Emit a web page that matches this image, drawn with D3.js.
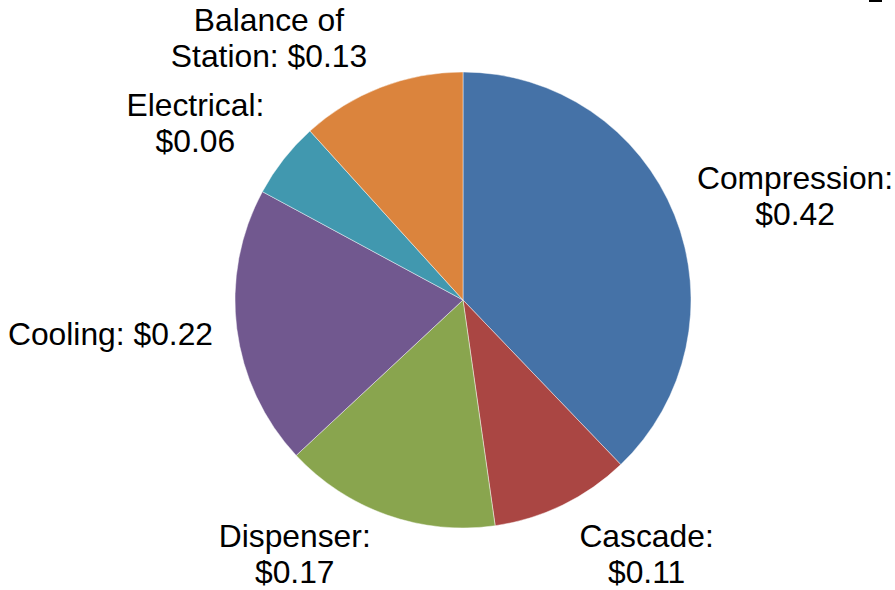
<!DOCTYPE html>
<html>
<head>
<meta charset="utf-8">
<script src="https://cdn.jsdelivr.net/npm/d3@7"></script>
<style>
  body { margin: 0; background: #fff; }
  text { font-family: "Liberation Sans", Arial, sans-serif; font-size: 31.8px; fill: #000; }
</style>
</head>
<body>
<script>
const width = 895, height = 590;
const cx = 463, cy = 300, radius = 228, labelRadius = 250;

// data, clockwise from 12 o'clock
const categories = ["Compression", "Cascade", "Dispenser", "Cooling", "Electrical", "Balance of Station"];
const values = [0.42, 0.11, 0.17, 0.22, 0.06, 0.13];
const labelLines = [
  ["Compression:", "$0.42"],
  ["Cascade:", "$0.11"],
  ["Dispenser:", "$0.17"],
  ["Cooling: $0.22"],
  ["Electrical:", "$0.06"],
  ["Balance of", "Station: $0.13"]
];
const colors = ["#4572A7", "#AA4643", "#89A54E", "#71588F", "#4198AF", "#DB843D"];

// small layout nudges for the labels (dx, dy in px)
const labelNudge = [[-2, 3], [3, -3], [-7, -15], [0, 0], [0, 0], [-4, 5]];

const data = categories.map((c, i) => ({name: c, value: values[i], lines: labelLines[i], color: colors[i], nudge: labelNudge[i]}));

let svg = d3.select("body").append("svg")
    .attr("width", width)
    .attr("height", height);

// small mark at the top right
svg.append("rect")
    .attr("x", 869).attr("y", 0)
    .attr("width", 13).attr("height", 2)
    .attr("fill", "#000");

const pie = d3.pie().sort(null).value(d => d.value);
const arc = d3.arc().innerRadius(0).outerRadius(radius);

const g = svg.append("g")
    .attr("transform", "translate(" + cx + "," + cy + ")");

const arcs = pie(data);

g.selectAll("path")
    .data(arcs)
    .enter().append("path")
    .attr("d", arc)
    .attr("fill", d => d.data.color)
    .attr("stroke", "#fff")
    .attr("stroke-opacity", 0.6)
    .attr("stroke-width", 0.75);

const lineH = 36;

arcs.forEach(d => {
  const a = (d.startAngle + d.endAngle) / 2;
  const px = labelRadius * Math.sin(a);
  const py = -labelRadius * Math.cos(a);
  const n = d.data.lines.length;
  const h = n * lineH;

  const t = g.append("text").attr("text-anchor", "middle");
  d.data.lines.forEach((ln, i) => {
    t.append("tspan").attr("x", 0).attr("dy", i === 0 ? 0 : lineH).text(ln);
  });
  let w = 0;
  t.selectAll("tspan").each(function() { w = Math.max(w, this.getComputedTextLength()); });

  // vertical placement: fraction of block above the anchor point
  const f = (1 + Math.cos(a)) / 2;
  const top = py - h * f + d.data.nudge[1];
  const right = Math.sin(a) >= 0;
  const left = (right ? px + 4 : px - w - 2) + d.data.nudge[0];
  t.attr("transform", "translate(" + (left + w / 2) + "," + (top + lineH * 0.8) + ")");
});
</script>
</body>
</html>
